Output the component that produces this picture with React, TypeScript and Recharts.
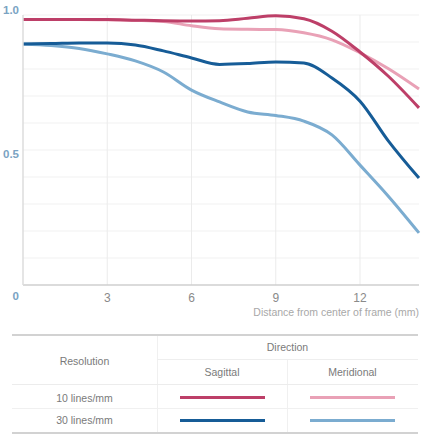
import { LineChart, Line, XAxis, YAxis, CartesianGrid } from 'recharts';

// distance from centre of frame (mm)
const distance = [0, 1, 2, 3, 4, 5, 6, 7, 8, 9, 10, 11, 12, 13, 14.1];

// MTF contrast values
const sagittal10 = [0.983, 0.983, 0.983, 0.983, 0.981, 0.979, 0.978, 0.979, 0.988, 0.997, 0.986, 0.94, 0.863, 0.774, 0.656];
const meridional10 = [0.983, 0.983, 0.983, 0.982, 0.98, 0.976, 0.96, 0.949, 0.947, 0.946, 0.934, 0.908, 0.86, 0.802, 0.726];
const sagittal30 = [0.893, 0.894, 0.896, 0.896, 0.889, 0.867, 0.841, 0.817, 0.82, 0.826, 0.822, 0.767, 0.681, 0.535, 0.396];
const meridional30 = [0.893, 0.887, 0.876, 0.856, 0.83, 0.789, 0.722, 0.678, 0.641, 0.628, 0.607, 0.556, 0.444, 0.33, 0.193];

const xTicks = [3, 6, 9, 12];
const yTicks = [0, 0.5, 1];
const fineGrid = [0.05, 0.1, 0.15, 0.2, 0.25, 0.3, 0.35, 0.4, 0.45, 0.5, 0.55, 0.6, 0.65, 0.7, 0.75, 0.8, 0.85, 0.9, 0.95, 1];

const COLORS = {
  s10: '#bd3f68',
  m10: '#e9a1b6',
  s30: '#165c97',
  m30: '#7bacd0',
};

const data = distance.map((mm, i) => ({
  mm,
  s10: sagittal10[i],
  m10: meridional10[i],
  s30: sagittal30[i],
  m30: meridional30[i],
}));

const FONT = '"Liberation Sans", Arial, sans-serif';

const YTick = (props: any) => {
  const { x, y, payload } = props;
  const v = payload.value;
  const dy = v === 1 ? -1 : v === 0.5 ? 8 : 15;
  return (
    <text x={x + 4} y={y + dy} textAnchor="end" fill="#7aa3c3" fontSize={11.5} fontWeight="bold" fontFamily={FONT}>
      {v === 0 ? '0' : v.toFixed(1)}
    </text>
  );
};

const XTick = (props: any) => {
  const { x, y, payload } = props;
  return (
    <text x={x} y={y + 9} textAnchor="middle" fill="#8a8a8a" fontSize={12} fontFamily={FONT}>
      {payload.value}
    </text>
  );
};

const AxisTitle = (props: any) => {
  const { viewBox } = props;
  return (
    <text x={viewBox.x + viewBox.width} y={viewBox.y + 31} textAnchor="end" fill="#a8a8a8" fontSize={10.5} fontFamily={FONT}>
      Distance from center of frame (mm)
    </text>
  );
};

const cell = (left: number, top: number, width: number, text: string) => (
  <div
    style={{
      position: 'absolute',
      left,
      top: top - 7,
      width,
      textAlign: 'center',
      fontSize: 10.5,
      lineHeight: '14px',
      color: '#7a7a7a',
    }}
  >
    {text}
  </div>
);

const hLine = (left: number, right: number, top: number, color: string, h = 1) => (
  <div style={{ position: 'absolute', left, top, width: right - left, height: h, background: color }} />
);

const vLine = (x: number, top: number, bottom: number) => (
  <div style={{ position: 'absolute', left: x, top, width: 1, height: bottom - top, background: '#f0f0f0' }} />
);

const swatch = (left: number, top: number, color: string) => (
  <div style={{ position: 'absolute', left, top: top - 1.5, width: 85, height: 3, background: color }} />
);

export default function App() {
  return (
    <div style={{ position: 'relative', width: 423, height: 436, background: '#fff', fontFamily: FONT }}>
      <style>{'body{margin:0}'}</style>
      <LineChart width={423} height={320} data={data} margin={{ top: 15, right: 4, bottom: 0, left: 0 }}>
        <CartesianGrid horizontal={true} vertical={false} horizontalValues={fineGrid} stroke="#f1f1f1" />
        <CartesianGrid horizontal={false} vertical={true} verticalValues={xTicks} stroke="#ebebeb" />
        <XAxis
          type="number"
          dataKey="mm"
          domain={[0, 14.1]}
          ticks={xTicks}
          height={35}
          tickLine={false}
          axisLine={{ stroke: '#cfcfcf', strokeWidth: 1.5 }}
          tick={<XTick />}
          label={<AxisTitle />}
        />
        <YAxis
          type="number"
          domain={[0, 1]}
          ticks={yTicks}
          width={23}
          tickLine={false}
          axisLine={{ stroke: '#dcdcdc', strokeWidth: 1.5 }}
          tick={<YTick />}
        />
        <Line type="monotone" dataKey="m10" stroke={COLORS.m10} strokeWidth={3} dot={false} isAnimationActive={false} />
        <Line type="monotone" dataKey="s10" stroke={COLORS.s10} strokeWidth={3} dot={false} isAnimationActive={false} />
        <Line type="monotone" dataKey="m30" stroke={COLORS.m30} strokeWidth={3} dot={false} isAnimationActive={false} />
        <Line type="monotone" dataKey="s30" stroke={COLORS.s30} strokeWidth={3} dot={false} isAnimationActive={false} />
      </LineChart>

      {/* legend table */}
      {hLine(12, 418, 334, '#d2d2d2', 2)}
      {vLine(157, 336, 433)}
      {vLine(287, 359, 433)}
      {cell(12, 361, 145, 'Resolution')}
      {cell(157, 347, 261, 'Direction')}
      {hLine(157, 418, 359, '#eeeeee')}
      {cell(157, 372, 130, 'Sagittal')}
      {cell(287, 372, 131, 'Meridional')}
      {hLine(12, 418, 384, '#ececec')}
      {cell(12, 398, 145, '10 lines/mm')}
      {swatch(180, 397, COLORS.s10)}
      {swatch(310, 397, COLORS.m10)}
      {hLine(12, 418, 408, '#f0f0f0')}
      {cell(12, 420, 145, '30 lines/mm')}
      {swatch(180, 420, COLORS.s30)}
      {swatch(310, 420, COLORS.m30)}
      {hLine(12, 418, 432, '#d2d2d2', 2)}
    </div>
  );
}
